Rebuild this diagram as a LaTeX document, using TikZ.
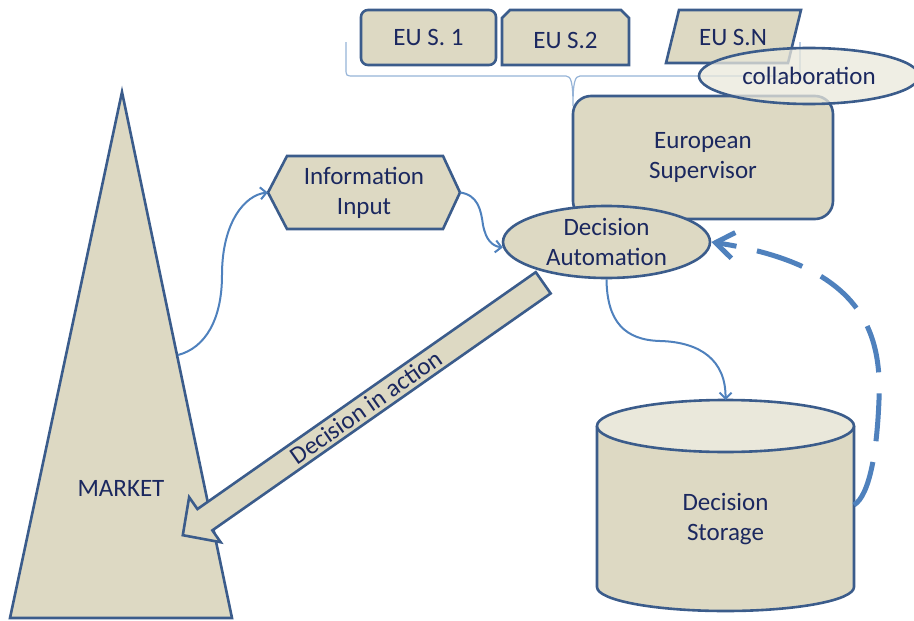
\documentclass[tikz,border=0pt]{standalone}
\usepackage{fontspec}
\setmainfont{Carlito}
\usepackage{xcolor}
\usepackage{tikz}
\usetikzlibrary{shapes,arrows.meta}
\definecolor{tanfill}{RGB}{221,217,195}
\definecolor{tanlight}{RGB}{234,232,219}
\definecolor{edgeblue}{RGB}{59,92,139}
\definecolor{flowblue}{RGB}{79,129,189}
\definecolor{bracketblue}{RGB}{149,179,215}
\definecolor{inktext}{RGB}{27,40,95}
\tikzstyle{plate} = [draw=edgeblue, line width=2.6pt, fill=tanfill]
\tikzstyle{txt} = [text=inktext, font=\fontsize{25}{30}\selectfont, align=center]
\tikzstyle{line} = [draw=flowblue, line width=2pt, -{Straight Barb[length=6pt,width=12pt]}]

\begin{document}
\begin{tikzpicture}[x=1pt,y=-1pt]
\useasboundingbox (0,0) rectangle (914,621);
%
\draw[bracketblue, line width=1.2pt] (346,42) -- (346,68) .. controls (346,76) .. (354,76) -- (566,76)
  .. controls (571,76) and (573,82) .. (573,106) .. controls (573,82) and (575,76) .. (580,76)
  -- (792,76) .. controls (800,76) .. (800,68) -- (800,42);
%
\node[plate, txt, rounded corners=7pt, minimum width=135pt, minimum height=55pt] (eus1) at (428.5,37.5) {EU S. 1};
\draw[plate] (502,18) -- (510,10) -- (621,10) -- (629,18) -- (629,65) -- (502,65) -- cycle;
\node[txt] (eus2) at (565.5,40) {EU S.2};
\draw[plate] (679,10) -- (801,10) -- (788,63) -- (666,63) -- cycle;
\node[txt] (eusn) at (733,37) {EU S.N};
%
\node[plate, txt, rounded corners=18pt, minimum width=260pt, minimum height=123pt] (eusup) at (703,157.5) {European\\Supervisor};
\node[plate, txt, ellipse, fill=tanlight, fill opacity=0.75, text opacity=1, minimum width=220pt, minimum height=56pt] (collab) at (809,76) {collaboration};
%
\draw[plate] (122,92) -- (232,618) -- (10,618) -- cycle;
\node[txt] (market) at (121,488) {MARKET};
\coordinate (mkt) at (178,355);
%
\draw[plate] (268,192.5) -- (287,156) -- (443,156) -- (460,192.5) -- (443,229) -- (287,229) -- cycle;
\node[txt, minimum width=192pt, minimum height=73pt] (info) at (364,192.5) {Information\\Input};
%
\begin{scope}[shift={(363,409)}, rotate=35]
\draw[plate] (220,13) -- (-193,13) -- (-193,27.5) -- (-220,0) -- (-193,-27.5) -- (-193,-13) -- (220,-13) -- cycle;
\end{scope}
\node[txt, rotate=35] (action) at (366,407) {Decision in action};
%
\node[plate, txt, ellipse, inner sep=0pt, minimum width=207pt, minimum height=72pt] (decauto) at (606.5,242) {Decision\\Automation};
%
\draw[plate] (597,426) -- (597,587) arc[start angle=180, end angle=360, x radius=128.5pt, y radius=24pt] -- (854,426);
\draw[plate, fill=tanlight] (725.5,426) ellipse [x radius=128.5pt, y radius=26pt];
\node[txt] (store) at (725.5,519) {Decision\\Storage};
\coordinate (storetop) at (725.5,400);
\coordinate (storeside) at (854,505);
%
\path[line] (mkt) .. controls (205,348) and (222,320) .. (222,275) .. controls (222,222) and (245,195) .. (info.west);
\path[line] (info.east) .. controls (478,195) and (481,210) .. (483,225) .. controls (486,240) and (492,246) .. (decauto.183);
\path[line] (decauto.south) .. controls (607,322) and (625,340) .. (660,341) .. controls (700,342) and (726,360) .. (storetop);
%
\draw[flowblue, line width=5pt, dash pattern=on 48pt off 21pt, -{Straight Barb[length=18pt,width=26pt]}]
  (storeside) .. controls (870,495) and (877,450) .. (879,400) .. controls (882,330) and (860,265) .. (decauto.east);
\end{tikzpicture}
\end{document}
